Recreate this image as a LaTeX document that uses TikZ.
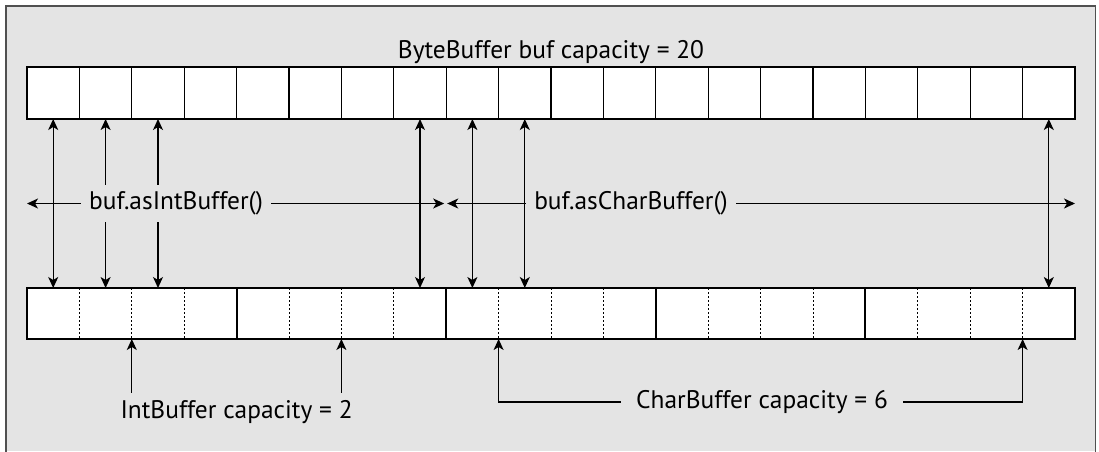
\documentclass[tikz,border=0pt]{standalone}
\usepackage{fontspec}
\setmainfont{PT Sans}
\usetikzlibrary{arrows.meta,positioning,calc}
\definecolor{panelgray}{RGB}{228,228,228}
\definecolor{framegray}{RGB}{80,80,80}

\begin{document}
\begin{tikzpicture}[x=1pt,y=-1pt,
    cell/.style={fill=white,minimum width=52.4pt,minimum height=52pt,inner sep=0pt,outer sep=0pt},
    lbl/.style={font=\fontsize{25.4}{30}\selectfont,fill=panelgray,inner ysep=0pt,inner xsep=8pt,minimum height=37pt},
    conn/.style={line width=1.3pt,{Stealth[length=11pt,width=10pt,inset=3pt]}-{Stealth[length=11pt,width=10pt,inset=3pt]}},
    up/.style={line width=1.3pt,-{Stealth[length=11pt,width=10pt,inset=3pt]}}]
  \def\cw{52.4}
  \useasboundingbox (0,0) rectangle (1099,451);
  % Fondo
  \fill[white] (0,0) rectangle (1099,451);
  \fill[panelgray] (6,6) rectangle (1095.5,451);
  \draw[framegray,line width=1.5pt] (6,452) -- (6,6) -- (1095.5,6) -- (1095.5,452);
  % ByteBuffer
  \foreach \i in {0,...,19}
    \node[cell] (t\i) at (27+\cw/2+\cw*\i,93) {};
  \foreach \i in {1,...,19}
    \draw[line width=1.3pt] (t\i.north west) -- (t\i.south west);
  \draw[line width=2pt] (t0.north west) rectangle (t19.south east);
  \node[font=\fontsize{25.4}{30}\selectfont,anchor=base] (title) at (551,58) {ByteBuffer buf capacity = 20};
  % vistas
  \foreach \i in {0,...,19}
    \node[cell,minimum height=51pt] (b\i) at (27+\cw/2+\cw*\i,313.5) {};
  \foreach \i in {1,2,3,5,6,7,9,10,11,13,14,15,17,18,19}
    \draw[line width=1pt,dash pattern=on 2pt off 2pt] (b\i.north west) -- (b\i.south west);
  \foreach \i in {4,8,12,16}
    \draw[line width=2pt] (b\i.north west) -- (b\i.south west);
  \draw[line width=2pt] (b0.north west) rectangle (b19.south east);
  % flechas verticales
  \foreach \i in {0,1,2,7,8,9,19}
    \draw[conn] (t\i.south) -- (b\i.north);
  \coordinate (mid) at (0,203.5);
  \draw[conn] (t0.south west |- mid) -- ([xshift=-2pt]t8.south west |- mid);
  \draw[conn] ([xshift=1pt]t8.south west |- mid) -- (t19.south east |- mid);
  \node[lbl] (asint) at (176,203.5) {buf.asIntBuffer()};
  \node[lbl] (aschar) at (631,203.5) {buf.asCharBuffer()};
  % capacidades
  \node[lbl,minimum height=38pt] (intcap) at (236.6,412) {IntBuffer capacity = 2};
  \node[lbl,inner xsep=15pt] (charcap) at (762,402) {CharBuffer capacity = 6};
  \draw[up] (intcap.north -| b2.south west) -- (b2.south west);
  \draw[up] (intcap.north -| b6.south west) -- (b6.south west);
  \draw[up] (charcap.west) -| (b9.south west);
  \draw[up] (charcap.east) -| (b19.south west);
\end{tikzpicture}
\end{document}
